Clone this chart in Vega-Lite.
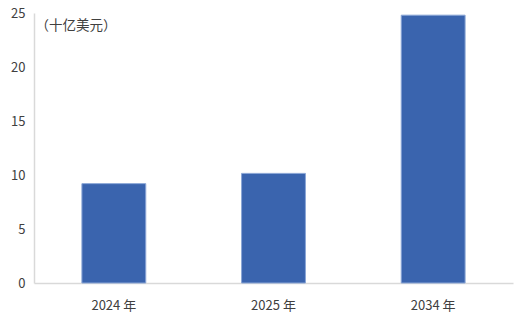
{
  "$schema": "https://vega.github.io/schema/vega-lite/v6.json",
  "autosize": {"type": "none"},
  "padding": {"left": 34, "top": 13, "right": 3, "bottom": 41},
  "width": 479,
  "height": 270,
  "background": "white",
  "config": {"view": {"stroke": null}, "font": "Noto Sans CJK SC"},
  "data": {"values": [
    {"year": "2024 年", "value": 9.2},
    {"year": "2025 年", "value": 10.15},
    {"year": "2034 年", "value": 24.8}
  ]},
  "mark": {"type": "bar", "color": "#3a64ae", "stroke": "#8aa6d6", "strokeWidth": 1},
  "encoding": {
    "x": {
      "field": "year", "type": "nominal", "sort": null,
      "scale": {"paddingInner": 0.6, "paddingOuter": 0.3},
      "axis": {"title": null, "labelAngle": 0, "ticks": false, "domainColor": "#d9d9d9", "domainWidth": 1.5, "labelColor": "#404040", "labelFontSize": 13, "labelPadding": 16, "labelFont": "Noto Sans CJK SC"}
    },
    "y": {
      "field": "value", "type": "quantitative",
      "scale": {"domain": [0, 25], "nice": false},
      "axis": {
        "values": [0, 5, 10, 15, 20, 25], "grid": false, "ticks": false,
        "domainColor": "#d9d9d9", "domainWidth": 1.5,
        "labelColor": "#404040", "labelFontSize": 13, "labelPadding": 9, "labelFont": "Noto Sans CJK SC",
        "title": "（十亿美元）", "titleAngle": 0, "titleX": 1, "titleY": 12, "titleAlign": "left", "titleBaseline": "middle",
        "titleFontWeight": "normal", "titleFontSize": 13.5, "titleColor": "#404040", "titleFont": "Noto Sans CJK SC"
      }
    }
  }
}
